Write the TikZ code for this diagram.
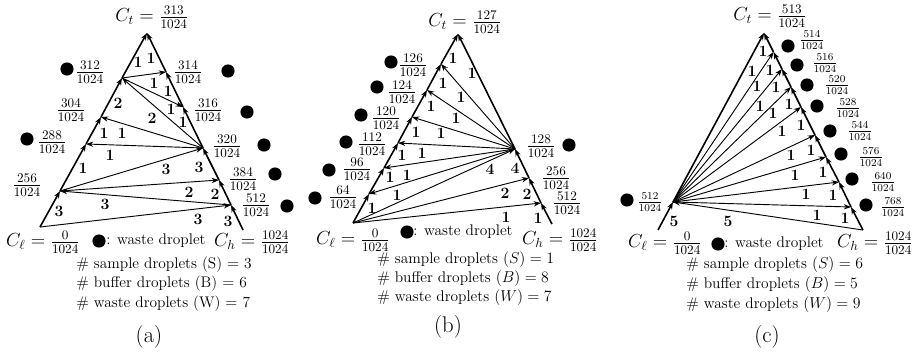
\documentclass[tikz,border=0pt]{standalone}
\usetikzlibrary{arrows.meta}
\tikzset{
  side/.style={line width=1.2pt, -{Stealth[length=5.5pt,width=4pt]}},
  flow/.style={line width=0.7pt, -{Stealth[length=5.5pt,width=4pt]}},
  wdot/.style={circle, fill=black, inner sep=0pt, minimum size=10pt},
  num/.style={font=\large\bfseries, inner sep=0pt},
  conc/.style={font=\Large, inner sep=0pt},
  sconc/.style={font=\large, inner sep=0pt},
  info/.style={font=\fontsize{11.7}{14}\selectfont, inner sep=0pt, anchor=west},
  capt/.style={font=\LARGE, inner sep=0pt},
}
\begin{document}
\begin{tikzpicture}[x=0.76pt,y=-0.76pt]
\useasboundingbox (0,0) rectangle (922,356);
% ================= (a) =================
\coordinate (aL) at (40,227); \coordinate (aT) at (147,33); \coordinate (aH) at (243,230);
\coordinate (a256) at (60,191); \coordinate (a288) at (86,144);
\coordinate (a304) at (101,117); \coordinate (a312) at (122,78);
\coordinate (a314) at (166,72); \coordinate (a316) at (183,107);
\coordinate (a320) at (203,148); \coordinate (a384) at (219,180);
\coordinate (a512) at (231,205);
\foreach \s/\t in {aL/a256,a256/a288,a288/a304,a304/a312,a312/aT,aH/a512,a512/a384,a384/a320,a320/a316,a316/a314,a314/aT}
  \draw[side] (\s) -- (\t);
\foreach \s/\t in {aL/a512,a512/a256,a256/a384,a256/a320,a320/a288,a320/a304,a320/a312,a312/a316,a312/a314}
  \draw[flow] (\s) -- (\t);
\foreach \x/\y/\n [count=\i] in {59/211/3,83/168/1,104/133/1,118/103/2,138/62/1,228/221/3,215/194/2,199/167/3,183/122/1,168/91/1,151/58/1,198/219/3,105/204/3,189/192/2,166/169/3,110/155/1,122/133/1,152/118/2,171/109/1,154/83/1}
  \node[num] (na\i) at (\x,\y) {\n};
\foreach \x/\y [count=\i] in {67/69,228/71,247/112,264/145,275/174,287/206,27/139}
  \node[wdot] (da\i) at (\x,\y) {};
\foreach \x/\y/\n [count=\i] in {90/72/312,188/72/314,71/110/304,208/110/316,52/142/288,227/146/320,243/179/384,27/185/256,256/205/512}
  \node[conc] (fa\i) at (\x,\y) {$\frac{\n}{1024}$};
\node[conc] (ctA) at (152,17) {$C_t = \frac{313}{1024}$};
\node[conc] (clA) at (43,242) {$C_\ell = \frac{0}{1024}$};
\node[conc] (chA) at (252,242) {$C_h = \frac{1024}{1024}$};
\node[wdot] (lgdA) at (99,241) {};
\node[info] (lgtA) at (106,241) {: waste droplet};
\node[info] (sA) at (76,265) {\# sample droplets (S) $=$ 3};
\node[info] (bA) at (76,284) {\# buffer droplets (B) $=$ 6};
\node[info] (wA) at (76,304) {\# waste droplets (W) $=$ 7};
\node[capt] (capA) at (149,337) {(a)};
% ================= (b) =================
\coordinate (bL) at (353,223); \coordinate (bT) at (458,34); \coordinate (bH) at (552,224);
\coordinate (b64) at (369,194); \coordinate (b96) at (384,168); \coordinate (b112) at (398,143);
\coordinate (b120) at (412,117); \coordinate (b124) at (427,90); \coordinate (b126) at (441,64);
\coordinate (b128) at (515,149); \coordinate (b256) at (529,178); \coordinate (b512) at (541,203);
\foreach \s/\t in {bL/b64,b64/b96,b96/b112,b112/b120,b120/b124,b124/b126,b126/bT,bH/b512,b512/b256,b256/b128,b128/bT}
  \draw[side] (\s) -- (\t);
\foreach \s/\t in {bL/b512,bL/b256,bL/b128,b128/b64,b128/b96,b128/b112,b128/b120,b128/b124,b128/b126}
  \draw[flow] (\s) -- (\t);
\foreach \x/\y/\n [count=\i] in {372/208/1,390/177/1,402/155/1,416/132/1,431/106/1,443/83/1,453/58/1,472/73/1,461/97/1,456/118/1,441/133/1,422/153/1,407/175/1,397/195/1,490/169/4,515/168/4,505/193/2,527/194/2,506/217/1,538/218/1}
  \node[num] (nb\i) at (\x,\y) {\n};
\foreach \x/\y [count=\i] in {391/62,377/87,361/115,346/142,329/170,315/198,569/145}
  \node[wdot] (db\i) at (\x,\y) {};
\foreach \x/\y/\n [count=\i] in {413/65/126,402/92/124,386/118/120,372/144/112,357/169/96,343/197/64,541/146/128,556/178/256,567/203/512}
  \node[conc] (fb\i) at (\x,\y) {$\frac{\n}{1024}$};
\node[conc] (ctB) at (465,22) {$C_t = \frac{127}{1024}$};
\node[conc] (clB) at (353,240) {$C_\ell = \frac{0}{1024}$};
\node[conc] (chB) at (560,240) {$C_h = \frac{1024}{1024}$};
\node[wdot] (lgdB) at (407,232) {};
\node[info] (lgtB) at (413,232) {: waste droplet};
\node[info] (sB) at (377,260) {\# sample droplets $(S)=1$};
\node[info] (bB) at (377,279) {\# buffer droplets $(B)=8$};
\node[info] (wB) at (377,298) {\# waste droplets $(W)=7$};
\node[capt] (capB) at (448,327) {(b)};
% ================= (c) =================
\coordinate (cL) at (658,230); \coordinate (cT) at (764,33); \coordinate (cH) at (863,230);
\coordinate (c512) at (673,202);
\coordinate (c514) at (773.5,52); \coordinate (c516) at (782,69); \coordinate (c520) at (791,87);
\coordinate (c528) at (801,107); \coordinate (c544) at (815,135); \coordinate (c576) at (826,157);
\coordinate (c640) at (839,182); \coordinate (c768) at (851,207);
\foreach \s/\t in {cL/c512,c512/cT,cH/c768,c768/c640,c640/c576,c576/c544,c544/c528,c528/c520,c520/c516,c516/c514,c514/cT}
  \draw[side] (\s) -- (\t);
\foreach \s/\t in {cH/c512,c512/c768,c512/c640,c512/c576,c512/c544,c512/c528,c512/c520,c512/c516,c512/c514}
  \draw[flow] (\s) -- (\t);
\foreach \x/\y/\n [count=\i] in {763/51/1,752/71/1,770/70/1,757/86/1,776/87/1,760/106/1,789/104/1,773/113/1,782/131/1,801/125/1,791/155/1,811/150/1,795/175/1,823/172/1,806/194/1,833/195/1,817/215/1,845/218/1,674/221/5,728/221/5}
  \node[num] (nc\i) at (\x,\y) {\n};
\foreach \x/\y [count=\i] in {788/46,797/65,807/85,817/106,830/131,841/154,852/179,866/205,627/200}
  \node[wdot] (dc\i) at (\x,\y) {};
\foreach \x/\y/\n [count=\i] in {812/40/514,825/63/516,837/85/520,848/108/528,860/131/544,871/157/576,883/182/640,893/207/768,650/202/512}
  \node[sconc] (fc\i) at (\x,\y) {$\frac{\n}{1024}$};
\node[conc] (ctC) at (770,16) {$C_t = \frac{513}{1024}$};
\node[conc] (clC) at (665,243) {$C_\ell = \frac{0}{1024}$};
\node[conc] (chC) at (875,243) {$C_h = \frac{1024}{1024}$};
\node[wdot] (lgdC) at (718,244) {};
\node[info] (lgtC) at (724,244) {: waste droplet};
\node[info] (sC) at (686,265) {\# sample droplets $(S)=6$};
\node[info] (bC) at (686,285) {\# buffer droplets $(B)=5$};
\node[info] (wC) at (686,305) {\# waste droplets $(W)=9$};
\node[capt] (capC) at (767,337) {(c)};
\end{tikzpicture}
\end{document}
